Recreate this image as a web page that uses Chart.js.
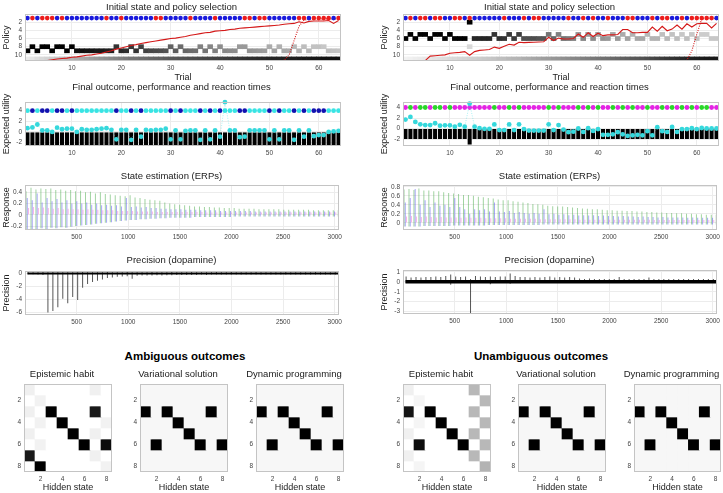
<!DOCTYPE html>
<html lang="en">
<head>
<meta charset="UTF-8">
<title>Policy selection simulations</title>
<script src="https://cdn.jsdelivr.net/npm/chart.js@4.4.1/dist/chart.umd.min.js"></script>
<style>
  body { margin: 0; width: 723px; height: 493px; position: relative; overflow: hidden; background: #fff; }
  .panel { position: absolute; }
  .panel canvas { display: block; }
  .heading { position: absolute; width: 240px; text-align: center; color: #000;
             font: bold 11.5px 'Liberation Sans', Arial, sans-serif; }
</style>
</head>
<body>
<div class="heading" style="left:65px;top:350px">Ambiguous outcomes</div>
<div class="heading" style="left:421px;top:350px">Unambiguous outcomes</div>
<script>
// ---- data ----
const trials = Array.from({ length: 64 }, (_, i) => i + 1);
const trialTicks = [10, 20, 30, 40, 50, 60];
const policyTicks = [2, 4, 6, 8, 10];
const sampleTicks = [500, 1000, 1500, 2000, 2500, 3000];
const stateTicks = [2, 4, 6, 8];
const samplesPerTrial = 48;
const stateRow = 1;       // row where initial states are marked
const lastPolicy = 11;    // bottom row of the policy image
const outcomeLevel = 4;   // row where outcomes are marked

// initial state per trial (1 = red, 0 = blue)
const leftStart  = [0,1,0,1,1,1,0,1,0,0, 0,0,0,0,0,0,1,0,0,1, 0,0,0,0,0,0,1,1,0,0, 0,0,0,1,0,0,0,0,1,0, 0,0,0,0,1,1,0,1,1,0, 0,0,0,0,0,1,1,0,1,1, 1,1,0,1];
const rightStart = [0,1,0,1,1,0,1,1,0,0, 1,1,0,1,0,0,0,0,0,0, 1,0,0,0,1,0,1,1,0,0, 0,0,0,1,0,0,1,0,1,0, 0,1,0,0,0,1,1,0,0,0, 1,0,1,1,0,0,1,0,1,1, 1,1,1,0];

// selected policy per trial and its posterior confidence
const leftChoice  = [9,8,9,8,8,9,8,8,9,8, 9,9,9,9,9,9,9,9,8,9, 9,8,9,8,9,9,9,9,9,8, 9,8,9,9,9,8,9,8,9,8, 9,9,9,8,8,9,9,9,9,8, 9,8,9,9,8,9,8,9,8,8, 8,9,9,9];
const rightChoice = [6,5,6,5,5,6,5,5,6,5, 6,6,6,2,6,6,6,6,5,6, 6,5,6,5,6,6,6,6,6,5, 6,5,6,6,6,5,6,5,6,5, 6,6,5,6,5,6,5,6,6,5, 6,6,5,6,5,6,5,6,5,6, 5,5,6,6];
const leftConf  = [1,1,1,1,1,1,1,1,1,1, 0.95,0.94,0.93,0.92,0.9,0.9,0.88,0.87,0.8,0.84, 0.82,0.78,0.8,0.75,0.74,0.72,0.71,0.7,0.68,0.62,
                   0.64,0.58,0.6,0.58,0.57,0.5,0.54,0.48,0.5,0.45, 0.47,0.46,0.45,0.4,0.4,0.42,0.41,0.4,0.39,0.33, 0.36,0.31,0.34,0.33,0.28,0.3,0.26,0.28,0.24,0.24, 0.22,0.25,0.24,0.23];
const rightConf = [1,1,1,1,1,1,1,1,1,1, 1,1,1,1,0.85,0.85,0.85,0.85,0.8,0.82, 0.8,0.78,0.78,0.76,0.7,0.7,0.7,0.68,0.68,0.55,
                   0.6,0.5,0.55,0.52,0.5,0.42,0.48,0.4,0.45,0.38, 0.42,0.4,0.35,0.4,0.33,0.36,0.3,0.34,0.34,0.28, 0.3,0.3,0.25,0.28,0.24,0.26,0.22,0.25,0.22,0.24, 0.2,0.2,0.22,0.22];
const rightExtraCells = [{ trial: 14, policy: 8, p: 0.15 }];
const leftLastRow  = [0.08,0.1,0.13,0.15,0.17,0.2,0.22,0.25,0.27,0.3, 0.32,0.34,0.36,0.38,0.4,0.42,0.44,0.46,0.48,0.5, 0.52,0.54,0.55,0.57,0.58,0.6,0.61,0.62,0.64,0.65,
                      0.66,0.67,0.68,0.69,0.7,0.71,0.72,0.73,0.74,0.75, 0.76,0.77,0.78,0.79,0.8,0.81,0.82,0.83,0.84,0.85, 0.86,0.86,0.87,0.88,0.88,0.89,0.9,0.9,0.91,0.91, 0.92,0.92,0.93,0.93];
const rightLastRow = [0.05,0.06,0.07,0.08,0.09,0.1,0.11,0.12,0.13,0.14, 0.15,0.16,0.17,0.18,0.19,0.2,0.21,0.22,0.23,0.25, 0.26,0.28,0.29,0.3,0.32,0.33,0.35,0.36,0.38,0.39,
                      0.41,0.42,0.44,0.45,0.47,0.48,0.5,0.51,0.53,0.54, 0.56,0.57,0.59,0.6,0.62,0.63,0.65,0.66,0.68,0.7, 0.72,0.74,0.76,0.78,0.8,0.82,0.84,0.86,0.87,0.88, 0.89,0.9,0.9,0.9];

// performance (solid) and optimal (dotted) curves
const leftPerf = [11.4,11.4,11.4,11.4,11.4,11.2,11.0,10.9,10.8,10.6, 10.5,10.3,10.1,10.0,9.8,9.6,9.3,9.0,8.6,8.3, 8.0,7.7,7.5,7.2,7.0,6.8,6.6,6.4,6.2,6.0,
                  5.9,5.7,5.5,5.2,5.0,4.8,4.6,4.5,4.2,4.1, 4.0,3.8,3.7,3.5,3.4,3.3,3.2,3.1,3.0,2.9, 2.8,2.7,2.5,2.4,2.3,1.9,2.2,1.8,1.7,1.7, 1.7,1.6,2.3,1.6];
const leftOptimal = [11.5,11.5,11.5,11.5,11.5,11.5,11.5,11.5,11.5,11.5, 11.5,11.5,11.5,11.5,11.5,11.5,11.5,11.5,11.5,11.5, 11.5,11.5,11.5,11.5,11.5,11.5,11.5,11.5,11.5,11.5,
                     11.5,11.5,11.5,11.5,11.5,11.5,11.5,11.5,11.5,11.5, 11.5,11.5,11.5,11.5,11.5,11.5,11.5,11.5,11.5,11.5, 11.5,11.5,11.3,10.0,6.5,3.0,1.5,1.3,1.2,1.2, 1.2,1.2,1.2,1.2];
const rightPerf = [11.4,11.4,11.4,11.4,11.4,10.3,10.2,10.1,10.0,9.6, 9.5,9.4,9.2,10.1,9.2,8.9,8.8,8.7,8.1,8.4, 7.9,7.4,7.6,6.9,7.0,6.95,6.9,6.85,6.8,5.7,
                   6.5,5.9,6.1,6.1,6.0,4.9,5.7,4.6,5.5,4.7, 5.3,5.1,5.1,5.0,3.8,3.8,4.6,4.6,4.5,4.5, 3.2,4.2,3.0,4.1,3.7,2.7,3.7,2.4,3.2,2.4, 2.3,2.3,3.4,2.3];
const rightOptimal = [11.5,11.5,11.5,11.5,11.5,11.5,11.5,11.5,11.5,11.5, 11.5,11.5,11.5,11.5,11.5,11.5,11.5,11.5,11.5,11.5, 11.5,11.5,11.5,11.5,11.5,11.5,11.5,11.5,11.5,11.5,
                      11.5,11.5,11.5,11.5,11.5,11.5,11.5,11.5,11.5,11.5, 11.5,11.5,11.5,11.5,11.5,11.5,11.5,11.5,11.5,11.5, 11.5,11.5,11.5,11.5,11.5,11.5,11.5,11.3,9.0,5.0, 1.2,1.1,1.1,1.1];

// outcomes (1 = second colour), utility bars and reaction times
const leftOutcome  = [0,1,0,1,1,0,1,1,0,1, 0,0,0,0,0,0,0,0,1,0, 0,1,0,1,0,0,0,0,0,1, 0,1,0,0,0,1,0,1,0,1, 0,0,0,1,1,0,0,0,0,1, 0,1,0,0,1,0,1,0,1,1, 1,0,0,0];
const rightOutcome = [0,1,0,1,1,0,1,1,0,1, 0,0,0,0,0,0,0,0,1,0, 0,1,0,1,0,0,0,0,0,1, 0,1,0,0,0,1,0,1,0,1, 0,0,1,0,1,0,1,0,0,1, 0,0,1,0,1,0,1,0,1,0, 1,1,0,0];
const leftUtility  = [-2.5,-2.5,-2.5,-2.5,-2.5,-2.5,-2.5,-2.5,-2.5,-2.5, -2.5,-2.5,-2.5,-2.5,-2.5,-2.5,-2.5,-2.5,-2.5,-2.5, -2.5,-2.5,-2.5,-2.5,-2.5,-2.5,-2.5,-2.5,-2.5,-2.5,
                      -2.5,-2.5,-2.5,-2.5,-2.5,-2.5,-2.5,-2.5,-2.5,-2.5, -2.5,-2.5,-2.5,-2.5,-2.5,-2.5,-2.5,-2.5,-2.5,-2.5, -2.5,-2.5,-2.5,-2.5,-2.5,-2.5,-2.5,-2.5,-2.5,-2.5, -2.5,-2.5,-2.5,-2.5];
const rightUtility = [-2,-2,-2,-2,-2,-2,-2,-2,-2,-2, -2,-2,-2,-3.05,-2,-2,-2,-2,-2,-2, -2,-2,-2,-2,-2,-2,-2,-2,-2,-2,
                      -2,-2,-2,-2,-2,-2,-2,-2,-2,-2, -2,-2,-2,-2,-2,-2,-2,-2,-2,-2, -2,-2,-2,-2,-2,-2,-2,-2,-2,-2, -2,-2,-2,-2];
const leftRT  = [0.7,0.85,1.4,0.3,0.3,0.0,0.8,0.5,0.6,0.6, 0.0,0.5,0.4,0.4,0.5,0.6,0.7,0.4,-1.4,0.4, 0.4,-1.5,0.4,-0.9,0.4,0.3,0.4,0.4,0.6,-1.4,
                 0.3,-1.4,0.2,0.3,0.3,-1.5,0.3,-1.4,0.3,-0.9, 5.6,0.3,0.3,-1.0,-0.9,0.3,0.3,0.3,0.3,-1.4, 0.3,-1.4,0.3,0.3,-1.5,0.3,-0.9,0.3,-0.8,-0.6, -0.6,0.0,0.1,0.2];
const rightRT = [1.7,2.2,1.26,0.8,0.65,0.65,1.0,0.55,0.6,0.6, 0.35,0.7,0.35,4.75,0.35,0.06,-0.06,-0.06,0.77,-0.3, -0.3,0.77,-0.3,0.8,-0.1,-0.4,-0.4,-0.4,-0.4,0.8,
                 -0.3,0.65,-0.2,-0.7,-0.6,0.0,-0.65,0.06,-0.45,-0.1, -1.2,-1.2,-1.1,-0.7,-1.1,-1.4,-1.3,-1.2,-1.3,-0.5, -1.3,0.25,-0.5,-0.65,0.3,-0.65,-0.1,-0.1,0.05,-0.1, 0.1,0.0,0.0,0.0];

// ERP peaks per trial
const leftErpGreen = [0.42,0.48,0.45,0.47,0.46,0.47,0.44,0.45,0.43,0.44, 0.42,0.43,0.40,0.41,0.38,0.40,0.37,0.36,0.35,0.34, 0.33,0.35,0.31,0.30,0.28,0.27,0.26,0.25,0.22,0.20,
                      0.19,0.18,0.17,0.16,0.15,0.15,0.14,0.14,0.13,0.13, 0.12,0.12,0.12,0.11,0.11,0.11,0.11,0.10,0.10,0.10, 0.10,0.10,0.09,0.09,0.09,0.09,0.09,0.09,0.08,0.08, 0.08,0.08,0.08,0.08];
const leftErpBlue  = [0.30,0.26,0.38,0.22,0.30,0.24,0.28,0.22,0.26,0.20, 0.24,0.20,0.22,0.18,0.20,0.17,0.18,0.16,0.17,0.15, 0.30,0.14,0.15,0.13,0.14,0.12,0.12,0.11,0.11,0.10,
                      0.10,0.10,0.09,0.09,0.09,0.08,0.08,0.08,0.08,0.07, 0.07,0.07,0.07,0.07,0.07,0.07,0.06,0.06,0.06,0.06, 0.06,0.06,0.06,0.06,0.06,0.06,0.06,0.06,0.06,0.06, 0.06,0.06,0.06,0.06];
const leftErpPink  = [0.12,0.14,0.12,0.13,0.12,0.11,0.12,0.10,0.11,0.10, 0.10,0.09,0.10,0.09,0.09,0.08,0.08,0.08,0.07,0.07, 0.07,0.07,0.06,0.06,0.06,0.06,0.05,0.05,0.05,0.05,
                      0.05,0.05,0.05,0.05,0.05,0.05,0.04,0.04,0.04,0.04, 0.04,0.04,0.04,0.04,0.04,0.04,0.04,0.04,0.04,0.04, 0.04,0.04,0.04,0.04,0.04,0.04,0.04,0.04,0.04,0.04, 0.04,0.04,0.04,0.04];
const leftErpLow   = [-0.27,-0.25,-0.26,-0.24,-0.25,-0.23,-0.24,-0.22,-0.23,-0.21, -0.2,-0.19,-0.18,-0.17,-0.16,-0.15,-0.14,-0.13,-0.12,-0.11, -0.1,-0.09,-0.09,-0.08,-0.08,-0.07,-0.07,-0.06,-0.06,-0.05,
                      -0.05,-0.05,-0.05,-0.05,-0.04,-0.04,-0.04,-0.04,-0.04,-0.04, -0.04,-0.04,-0.03,-0.03,-0.03,-0.03,-0.03,-0.03,-0.03,-0.03, -0.03,-0.03,-0.03,-0.03,-0.03,-0.03,-0.03,-0.03,-0.03,-0.03, -0.03,-0.03,-0.03,-0.03];
const rightErpGreen = [0.74,0.75,0.73,0.76,0.72,0.72,0.70,0.70,0.68,0.66, 0.65,0.64,0.62,0.62,0.60,0.58,0.57,0.55,0.54,0.52, 0.50,0.50,0.48,0.47,0.45,0.44,0.42,0.41,0.40,0.38,
                       0.37,0.36,0.36,0.35,0.34,0.33,0.32,0.31,0.30,0.30, 0.29,0.28,0.28,0.27,0.27,0.26,0.26,0.25,0.25,0.24, 0.24,0.23,0.23,0.22,0.22,0.21,0.21,0.20,0.20,0.19, 0.19,0.18,0.18,0.18];
const rightErpBlue  = [0.45,0.55,0.75,0.40,0.50,0.35,0.45,0.38,0.40,0.35, 0.55,0.35,0.30,0.20,0.30,0.28,0.30,0.25,0.45,0.25, 0.24,0.26,0.22,0.24,0.22,0.20,0.22,0.20,0.30,0.19,
                       0.20,0.18,0.19,0.17,0.18,0.16,0.17,0.16,0.17,0.15, 0.16,0.15,0.15,0.14,0.15,0.14,0.14,0.13,0.14,0.13, 0.13,0.12,0.13,0.12,0.12,0.12,0.12,0.11,0.12,0.11, 0.11,0.11,0.11,0.11];
const rightErpPink  = [0.14,0.15,0.14,0.13,0.14,0.13,0.12,0.13,0.12,0.12, 0.12,0.11,0.12,0.11,0.11,0.11,0.10,0.10,0.10,0.10, 0.10,0.09,0.09,0.09,0.09,0.09,0.09,0.08,0.08,0.08,
                       0.08,0.08,0.08,0.08,0.08,0.07,0.07,0.07,0.07,0.07, 0.07,0.07,0.07,0.07,0.07,0.07,0.07,0.07,0.07,0.07, 0.06,0.06,0.06,0.06,0.06,0.06,0.06,0.06,0.06,0.06, 0.06,0.06,0.06,0.06];
const rightErpLow   = [-0.08,-0.08,-0.08,-0.08,-0.07,-0.07,-0.07,-0.07,-0.07,-0.07, -0.06,-0.06,-0.06,-0.06,-0.06,-0.06,-0.06,-0.05,-0.05,-0.05, -0.05,-0.05,-0.05,-0.05,-0.05,-0.05,-0.05,-0.05,-0.04,-0.04,
                       -0.04,-0.04,-0.04,-0.04,-0.04,-0.04,-0.04,-0.04,-0.04,-0.04, -0.04,-0.04,-0.04,-0.04,-0.04,-0.04,-0.04,-0.04,-0.04,-0.04, -0.04,-0.04,-0.04,-0.04,-0.04,-0.04,-0.04,-0.04,-0.04,-0.04, -0.04,-0.04,-0.04,-0.04];

// precision (dopamine) excursions per trial
const precisionRest = [0,0,0,0,0,0,0,0,0,0, 0,0,0,0,0,0,0,0,0,0, 0,0,0,0,0,0,0,0,0,0, 0,0,0,0,0,0,0,0,0,0, 0,0,0,0,0,0,0,0,0,0, 0,0,0,0,0,0,0,0,0,0, 0,0,0,0];
const leftPrecMin  = [-0.1,-0.1,-0.15,-0.2,-6.0,-5.8,-5.2,-3.9,-4.6,-3.6, -4.1,-2.2,-1.6,-1.3,-1.1,-0.9,-0.7,-0.6,-0.5,-0.45, -0.4,-0.8,-0.35,-0.3,-0.3,-0.3,-0.25,-0.3,-0.25,-0.25,
                      -0.2,-0.2,-0.2,-0.2,-0.2,-0.15,-0.2,-0.15,-0.15,-0.15, -0.15,-0.15,-0.15,-0.15,-0.15,-0.15,-0.15,-0.15,-0.15,-0.15, -0.15,-0.15,-0.15,-0.15,-0.15,-0.15,-0.15,-0.15,-0.15,-0.15, -0.15,-0.15,-0.15,-0.15];
const leftPrecMax  = [0.25,0.2,0.2,0.3,0.2,0.25,0.2,0.2,0.2,0.2, 0.2,0.25,0.2,0.2,0.2,0.2,0.25,0.2,0.2,0.2, 0.25,0.2,0.2,0.2,0.2,0.25,0.2,0.2,0.2,0.25,
                      0.2,0.2,0.2,0.25,0.2,0.2,0.2,0.2,0.25,0.2, 0.2,0.3,0.2,0.2,0.2,0.2,0.25,0.2,0.2,0.2, 0.2,0.2,0.25,0.2,0.2,0.2,0.2,0.2,0.25,0.2, 0.2,0.2,0.2,0.2];
const rightPrecMin = [-0.12,-0.12,-0.12,-0.12,-0.12,-0.12,-0.12,-0.12,-0.12,-0.3, -0.12,-0.12,-0.12,-3.15,-0.12,-0.12,-0.12,-0.25,-0.12,-0.12, -0.12,-0.2,-0.12,-0.12,-0.12,-0.12,-0.12,-0.12,-0.12,-0.12,
                      -0.12,-0.12,-0.12,-0.12,-0.12,-0.12,-0.12,-0.12,-0.12,-0.12, -0.12,-0.12,-0.12,-0.12,-0.12,-0.12,-0.12,-0.12,-0.12,-0.12, -0.12,-0.12,-0.12,-0.12,-0.12,-0.12,-0.12,-0.12,-0.12,-0.12, -0.12,-0.12,-0.12,-0.12];
const rightPrecMax = [0.55,0.45,0.5,0.45,0.5,0.5,0.55,0.5,0.6,0.75, 0.55,0.5,0.55,0.3,0.6,0.55,0.5,0.55,0.5,0.55, 0.55,0.85,0.6,0.5,0.5,0.45,0.5,0.45,0.5,0.55,
                      0.45,0.5,0.45,0.5,0.45,0.35,0.3,0.35,0.3,0.3, 0.3,0.3,0.3,0.5,0.3,0.3,0.3,0.3,0.3,0.45, 0.3,0.3,0.3,0.3,0.3,0.3,0.3,0.3,0.3,0.3, 0.3,0.3,0.3,0.3];

// state transition matrices (rows = y state, columns = hidden state), darkness 0..1
const ambiguousHabit = [
  [0.06,0,0,0,0,0,0.06,0],
  [0,0.05,0,0,0,0,0,0],
  [0.06,0,1,0,0,0,0.9,0],
  [0,0.05,0,1,0,0,0,0.05],
  [0.06,0,0,0,1,0,0.06,0],
  [0,0.05,0,0,0,1,0,0.95],
  [0.9,0,0,0,0,0,0.06,0],
  [0,1,0,0,0,0,0,0.05]
];
const unambiguousHabit = [
  [0.06,0,0,0,0,0,0.28,0],
  [0,0.04,0,0,0,0,0,0.28],
  [0.92,0,1,0,0,0,0.28,0],
  [0,0.04,0,1,0,0,0,0.28],
  [0.06,0,0,0,1,0,0.28,0],
  [0,0.95,0,0,0,1,0,0.28],
  [0.06,0,0,0,0,0,0.28,0],
  [0,0.04,0,0,0,0,0,0.3]
];
const optimalTransitions = [
  [0.03,0.03,0.03,0.03,0.03,0.03,0.03,0.03],
  [0.03,0.03,0.03,0.03,0.03,0.03,0.03,0.03],
  [1,0.03,1,0.03,0.03,0.03,1,0.03],
  [0.03,0.03,0.03,1,0.03,0.03,0.03,0.03],
  [0.03,0.03,0.03,0.03,1,0.03,0.03,0.03],
  [0.03,1,0.03,0.03,0.03,1,0.03,1],
  [0.03,0.03,0.03,0.03,0.03,0.03,0.03,0.03],
  [0.03,0.03,0.03,0.03,0.03,0.03,0.03,0.03]
];

// ---- drawing ----
Chart.defaults.font.family = "'Liberation Sans', Arial, sans-serif";
Chart.defaults.color = '#444';
Chart.defaults.animation = false;
Chart.defaults.plugins.legend.display = false;
Chart.defaults.plugins.tooltip.enabled = false;

// matlab-like box round the axes
Chart.register({
  id: 'frame',
  afterDatasetsDraw(chart) {
    const a = chart.chartArea, ctx = chart.ctx;
    ctx.save();
    ctx.strokeStyle = '#c4c4c4';
    ctx.lineWidth = 1;
    ctx.strokeRect(Math.round(a.left) + 0.5, Math.round(a.top) + 0.5, Math.round(a.right - a.left) - 1, Math.round(a.bottom - a.top) - 1);
    ctx.restore();
  }
});

const shade = p => { const v = Math.round(255 * (1 - p)); return `rgb(${v},${v},${v})`; };

function axis(min, max, ticks, o = {}) {
  return {
    type: 'linear', min, max, bounds: 'data', offset: false, reverse: !!o.reverse,
    afterBuildTicks: s => { s.ticks = ticks.map(v => ({ value: v })); },
    grid: { display: o.grid !== false, color: '#ececec', drawTicks: false, offset: false },
    border: { display: false },
    ticks: { font: { size: 6.5 }, padding: 3, autoSkip: false, maxRotation: 0, callback: v => String(v) },
    title: o.title ? { display: true, text: o.title, color: '#222', font: { size: o.titleSize || 9 }, padding: { top: 1.5, bottom: 0 } } : { display: false }
  };
}

// box = plot area [left, top, right, bottom] in page pixels
function panel(box, titleText, titleY, m, scales, datasets) {
  const [l, t, r, b] = box;
  const lh = 11.4;
  const top = Math.max(0, Math.floor(titleY - lh / 2 - 1));
  const padTop = titleY - lh / 2 - top;
  const mt = t - top;
  const w = r - l + m.l + m.r, h = b - top + m.b;
  const div = document.createElement('div');
  div.className = 'panel';
  div.style.left = (l - m.l) + 'px';
  div.style.top = top + 'px';
  const cv = document.createElement('canvas');
  cv.width = w; cv.height = h;
  cv.style.width = w + 'px'; cv.style.height = h + 'px';
  div.appendChild(cv);
  document.body.appendChild(div);
  scales.x.afterFit = s => { s.height = m.b; };
  scales.y.afterFit = s => { s.width = m.l; };
  return new Chart(cv, {
    type: 'bar',
    data: { datasets },
    options: {
      responsive: false,
      layout: { padding: { left: 0, right: m.r, top: 0, bottom: 0 } },
      scales,
      plugins: {
        title: { display: true, text: titleText, color: '#1a1a1a', font: { size: 9.5, weight: 'normal', lineHeight: 1.2 },
                 padding: { top: padTop, bottom: mt - padTop - lh } }
      }
    }
  });
}

const RED = '#ec1c1c', BLUE = '#1a1adc';
const cellBars = (cells, colors, order) => ({
  data: cells, backgroundColor: colors, grouped: false, barPercentage: 1, categoryPercentage: 1, borderWidth: 0, order
});

function policyPanel(x0, x1, start, choice, conf, lastRow, perf, optimal, extra) {
  const ds = [
    { type: 'line', showLine: false, data: trials.map(t => ({ x: t, y: stateRow })), pointRadius: 2.3, pointBorderWidth: 0,
      pointBackgroundColor: start.map(s => s ? RED : BLUE), clip: false, order: 0 },
    { type: 'line', data: trials.map((t, i) => ({ x: t, y: perf[i] })), borderColor: '#d41818', borderWidth: 1.1, pointRadius: 0, order: 1 },
    { type: 'line', data: trials.map((t, i) => ({ x: t, y: optimal[i] })), borderColor: '#d41818', borderWidth: 1.1, borderDash: [1, 1.3], pointRadius: 0, order: 2 },
    cellBars(trials.map((t, i) => ({ x: t, y: [choice[i] - 0.5, choice[i] + 0.5] })), conf.map(shade), 3),
    cellBars(trials.map(t => ({ x: t, y: [lastPolicy - 0.5, lastPolicy + 0.5] })), lastRow.map(shade), 4)
  ];
  if (extra) ds.push(cellBars(extra.map(c => ({ x: c.trial, y: [c.policy - 0.5, c.policy + 0.5] })), extra.map(c => shade(c.p)), 5));
  panel([x0, 14, x1, 61], 'Initial state and policy selection', 7, { l: 25, r: 2, b: 22 },
    { x: axis(0.5, 64.5, trialTicks, { title: 'Trial' }), y: axis(0, 11.5, policyTicks, { reverse: true, title: 'Policy' }) }, ds);
}

function outcomePanel(x0, x1, yMin, yMax, outcome, colors, utility, rt) {
  const ds = [
    { type: 'line', showLine: false, data: trials.map(t => ({ x: t, y: outcomeLevel })), pointRadius: 2.4, pointBorderWidth: 0,
      pointBackgroundColor: outcome.map(o => colors[o]), order: 1 },
    { type: 'line', data: trials.map((t, i) => ({ x: t, y: rt[i] })), borderColor: 'rgba(40,220,225,0.5)', borderWidth: 0.8, borderDash: [1, 1.5],
      pointRadius: 2.4, pointBorderWidth: 0, pointBackgroundColor: '#35d8dc', clip: false, order: 0 },
    { data: trials.map((t, i) => ({ x: t, y: utility[i] })), backgroundColor: '#000', barPercentage: 0.82, categoryPercentage: 1, order: 2 }
  ];
  panel([x0, 102, x1, 146], 'Final outcome, performance and reaction times', 87, { l: 25, r: 2, b: 12 },
    { x: axis(0.5, 64.5, trialTicks), y: axis(yMin, yMax, [-2, 0, 2, 4], { title: 'Expected utility' }) }, ds);
}

function erpPanel(x0, x1, yMin, yMax, yTicks, green, blue, pink, low) {
  const spikes = (offset, color, vals, lows) => ({
    data: trials.map((t, i) => ({ x: (t - 1) * samplesPerTrial + offset, y: lows ? [lows[i], vals[i]] : vals[i] })),
    backgroundColor: color, grouped: false, barPercentage: 1, categoryPercentage: 1, maxBarThickness: 1, inflateAmount: 0
  });
  const ds = [
    spikes(34, 'rgba(235,90,200,0.45)', pink),
    spikes(22, 'rgba(80,80,235,0.5)', blue, low),
    spikes(10, 'rgba(70,170,70,0.5)', green, low)
  ];
  panel([x0, 185, x1, 230], 'State estimation (ERPs)', 176, { l: 25, r: 2, b: 12 },
    { x: axis(0, 3040, sampleTicks), y: axis(yMin, yMax, yTicks, { title: 'Response' }) }, ds);
}

function precisionPanel(x0, top, bottom, yMin, yMax, yTicks, lo, hi, restWidth) {
  const ds = [
    { data: trials.map((t, i) => ({ x: (t - 1) * samplesPerTrial + 30, y: [lo[i], hi[i]] })), backgroundColor: 'rgba(30,30,30,0.75)',
      grouped: false, barPercentage: 1, categoryPercentage: 1, maxBarThickness: 1, inflateAmount: 0, order: 1 },
    { type: 'line', data: trials.map((t, i) => ({ x: (t - 1) * samplesPerTrial + 24, y: precisionRest[i] })), borderColor: '#000',
      borderWidth: restWidth, pointRadius: 0, order: 0 }
  ];
  panel([x0, top, x0 + 318, bottom], 'Precision (dopamine)', 260, { l: 25, r: 2, b: 12 },
    { x: axis(0, 3040, sampleTicks), y: axis(yMin, yMax, yTicks, { title: 'Precision' }) }, ds);
}

function matrixPanel(x0, x1, title, cells) {
  const ds = cells.map((row, r) => cellBars(row.map((p, c) => ({ x: c + 1, y: [r + 0.5, r + 1.5] })), row.map(shade), 0));
  panel([x0, 384, x1, 472], title, 374, { l: 12, r: 1, b: 21 },
    { x: axis(0.5, 8.5, stateTicks, { grid: false, title: 'Hidden state' }), y: axis(0.5, 8.5, stateTicks, { grid: false, reverse: true }) }, ds);
}

// left column: ambiguous outcomes
policyPanel(25, 343, leftStart, leftChoice, leftConf, leftLastRow, leftPerf, leftOptimal);
outcomePanel(25, 343, -2.66, 5.64, leftOutcome, ['#38e4e4', '#1212b0'], leftUtility, leftRT);
erpPanel(25, 343, -0.27, 0.53, [-0.2, 0, 0.2, 0.4], leftErpGreen, leftErpBlue, leftErpPink, leftErpLow);
precisionPanel(25, 271, 315, -6.4, 0.4, [-6, -4, -2, 0], leftPrecMin, leftPrecMax, 2);

// right column: unambiguous outcomes
policyPanel(403, 721, rightStart, rightChoice, rightConf, rightLastRow, rightPerf, rightOptimal, rightExtraCells);
outcomePanel(403, 721, -3.33, 5.05, rightOutcome, ['#e424e4', '#2ad82a'], rightUtility, rightRT);
erpPanel(403, 721, -0.16, 0.84, [0, 0.2, 0.4, 0.6, 0.8], rightErpGreen, rightErpBlue, rightErpPink, rightErpLow);
precisionPanel(403, 270, 314, -3.25, 1.2, [-3, -2, -1, 0, 1], rightPrecMin, rightPrecMax, 3.5);

// transition matrices
matrixPanel(24, 112, 'Epistemic habit', ambiguousHabit);
matrixPanel(140, 228, 'Variational solution', optimalTransitions);
matrixPanel(256, 344, 'Dynamic programming', optimalTransitions);
matrixPanel(403, 491, 'Epistemic habit', unambiguousHabit);
matrixPanel(518, 606, 'Variational solution', optimalTransitions);
matrixPanel(634, 721, 'Dynamic programming', optimalTransitions);
</script>
</body>
</html>
